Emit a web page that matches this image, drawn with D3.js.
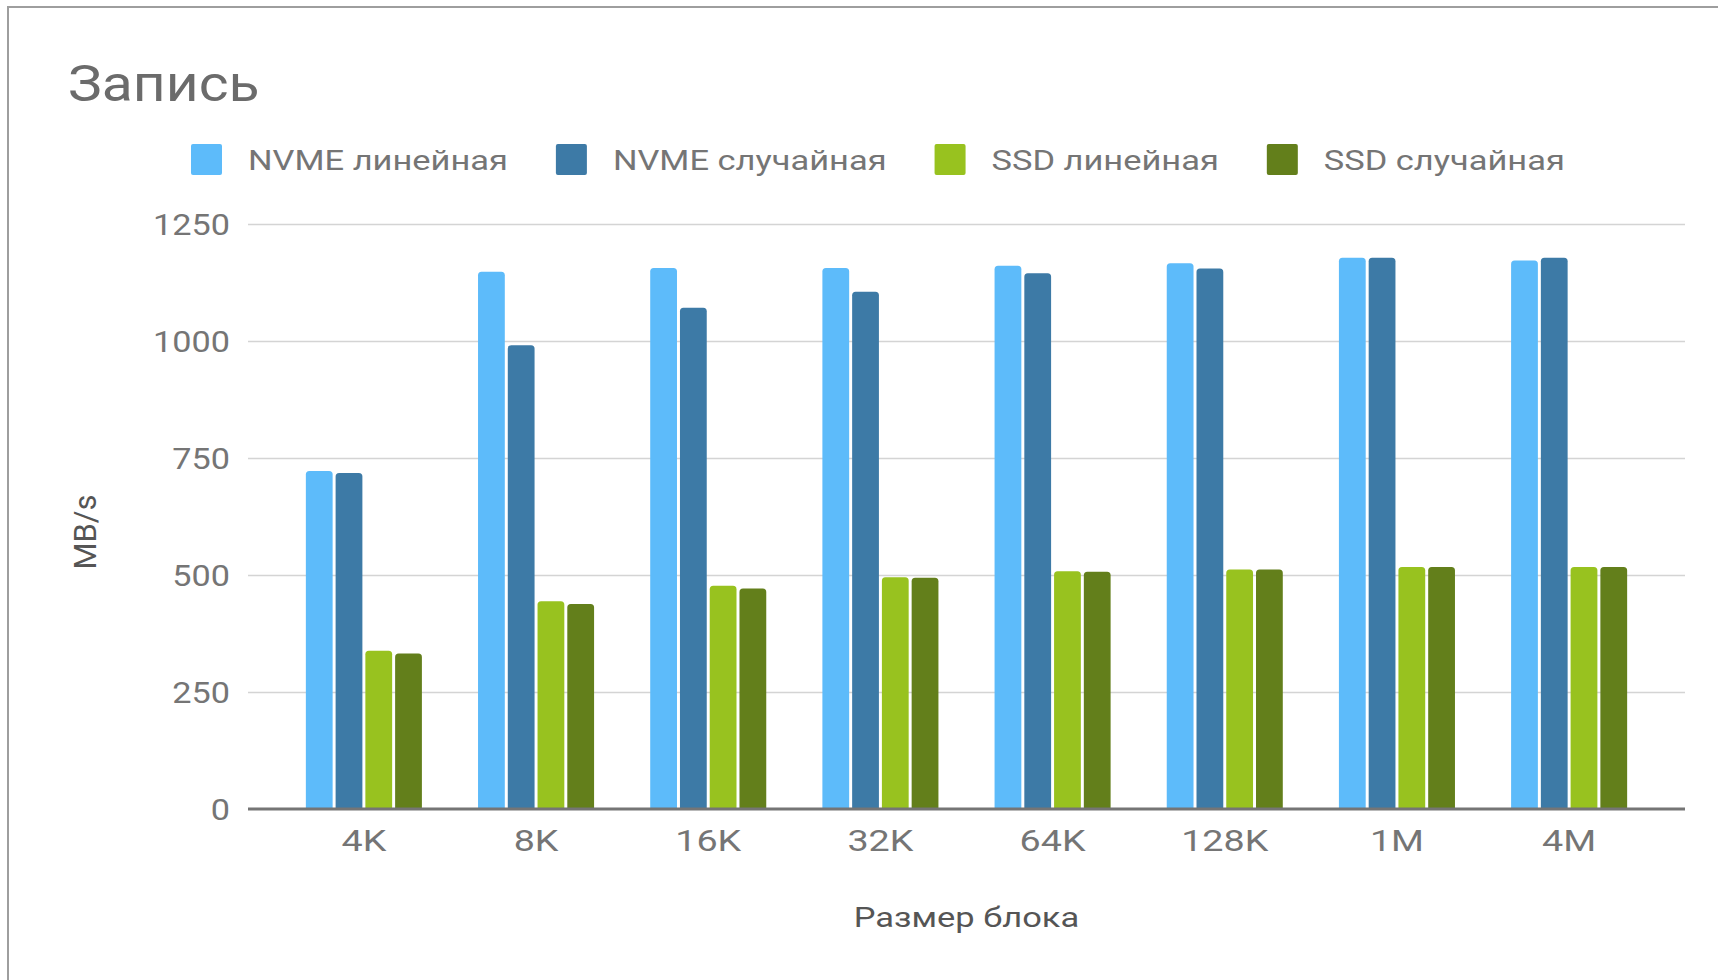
<!DOCTYPE html>
<html>
<head>
<meta charset="utf-8">
<script src="https://cdn.jsdelivr.net/npm/d3@7"></script>
<style>
    body { margin: 0; background: #fff; }
    text { font-family: Roboto, "Noto Sans", sans-serif; }
</style>
</head>
<body>
<div id="chart"></div>
<script>
// block sizes
let categories = ["4K", "8K", "16K", "32K", "64K", "128K", "1M", "4M"];

// series names
let seriesNames = ["NVME линейная", "NVME случайная", "SSD линейная", "SSD случайная"];

// MB/s per block size
let nvmeLinear = [722, 1148, 1156, 1156, 1161, 1166, 1178, 1172];
let nvmeRandom = [718, 991, 1071, 1105, 1145, 1155, 1178, 1178];
let ssdLinear  = [338, 444, 477, 495, 508, 512, 517, 517];
let ssdRandom  = [332, 438, 471, 494, 507, 512, 517, 517];

let yTicks = [0, 250, 500, 750, 1000, 1250];

let colors = ["#5dbbfa", "#3d7aa6", "#98c21f", "#637f1b"];

let seriesValues = [nvmeLinear, nvmeRandom, ssdLinear, ssdRandom];

// build rows for the grouped bars
let rows = categories.map((c, i) => ({
    cat: c,
    vals: seriesNames.map((s, j) => ({key: s, value: seriesValues[j][i], color: colors[j]}))
}));

let width = 1718, height = 980;
let plot = {left: 248, right: 1685, top: 224, bottom: 809};

// the source image has wide lettering, stretch text horizontally
function stretchText(sel, x, y, sx) {
    sel.attr("x", 0).attr("y", 0)
        .attr("transform", "translate(" + x + "," + y + ") scale(" + sx + ",1)");
}

let svg = d3.select("#chart").append("svg")
    .attr("width", width)
    .attr("height", height)

// frame
svg.append("rect")
    .attr("x", 8).attr("y", 7)
    .attr("width", width + 20).attr("height", height + 20)
    .attr("fill", "#fff")
    .attr("stroke", "#9e9e9e")
    .attr("stroke-width", 2)

// scales
let x0 = d3.scaleBand()
    .domain(categories)
    .range([plot.left, plot.right])
    .paddingInner(0.326)
    .paddingOuter(0.336);

let x1 = d3.scaleBand()
    .domain(seriesNames)
    .range([0, x0.bandwidth()])
    .paddingInner(0.1);

let y = d3.scaleLinear()
    .domain([0, 1250])
    .range([plot.bottom, plot.top]);

// gridlines + y labels
let yScaleX = 1.18;
let yAxis = d3.axisLeft(y)
    .tickValues(yTicks)
    .tickFormat(d3.format("d"))
    .tickSize(-(plot.right - plot.left))
    .tickPadding(18);

let gy = svg.append("g")
    .attr("transform", "translate(" + plot.left + ",0)")
    .call(yAxis);
gy.select(".domain").remove();
gy.selectAll(".tick line")
    .attr("stroke", d => d === 0 ? "none" : "#d4d4d4")
    .attr("stroke-width", 1.5);
gy.selectAll(".tick text")
    .attr("fill", "#757575")
    .style("font-size", "29px")
    .attr("x", -18 / yScaleX)
    .attr("dy", "0.36em")
    .attr("transform", "scale(" + yScaleX + ",1)");

// bars with small rounded tops
function topRounded(x, yy, w, h, r) {
    r = Math.min(r, h, w / 2);
    return "M" + x + "," + (yy + h) + "V" + (yy + r) +
        "Q" + x + "," + yy + " " + (x + r) + "," + yy +
        "H" + (x + w - r) +
        "Q" + (x + w) + "," + yy + " " + (x + w) + "," + (yy + r) +
        "V" + (yy + h) + "Z";
}

let groups = svg.append("g").selectAll("g")
    .data(rows)
    .enter().append("g")
    .attr("transform", d => "translate(" + x0(d.cat) + ",0)");

groups.selectAll("path")
    .data(d => d.vals)
    .enter().append("path")
    .attr("fill", d => d.color)
    .attr("d", d => topRounded(x1(d.key), y(d.value), x1.bandwidth(), y(0) - y(d.value), 3.5));

// baseline
svg.append("line")
    .attr("x1", plot.left).attr("x2", plot.right)
    .attr("y1", y(0)).attr("y2", y(0))
    .attr("stroke", "#757575")
    .attr("stroke-width", 3);

// x labels
let xAxis = d3.axisBottom(x0).tickSize(0).tickPadding(21);
let gx = svg.append("g")
    .attr("transform", "translate(0," + plot.bottom + ")")
    .call(xAxis);
gx.select(".domain").remove();
gx.selectAll(".tick text")
    .attr("fill", "#757575")
    .style("font-size", "29px")
    .attr("transform", "scale(1.3,1)");

// title
svg.append("text")
    .attr("fill", "#6b6b6b")
    .style("font-size", "50px")
    .text("Запись")
    .call(stretchText, 68, 101, 1.14);

// axis titles
svg.append("text")
    .attr("text-anchor", "middle")
    .attr("fill", "#555")
    .style("font-size", "28px")
    .text("Размер блока")
    .call(stretchText, (plot.left + plot.right) / 2, 927, 1.23);

svg.append("text")
    .attr("transform", "translate(96,532) rotate(-90)")
    .attr("text-anchor", "middle")
    .attr("fill", "#555")
    .style("font-size", "31px")
    .text("MB/s");

// legend
let legendScaleX = 1.23;
let legend = svg.append("g").attr("class", "legend");
let lx = 191;
seriesNames.forEach((s, i) => {
    let item = legend.append("g").attr("transform", "translate(" + lx + ",144)");
    item.append("rect")
        .attr("width", 31).attr("height", 31)
        .attr("rx", 2)
        .attr("fill", colors[i]);
    let t = item.append("text")
        .attr("fill", "#757575")
        .style("font-size", "28px")
        .text(s)
        .call(stretchText, 57, 26, legendScaleX);
    lx += 57 + t.node().getComputedTextLength() * legendScaleX + 48;
});
</script>
</body>
</html>
